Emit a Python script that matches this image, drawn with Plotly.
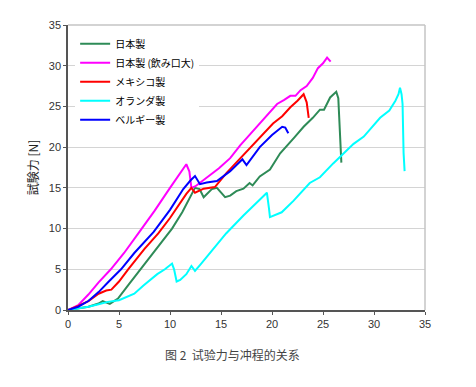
import plotly.graph_objects as go

# ---- data (stroke mm, force N) ----
names = ["日本製", "日本製 (飲み口大)", "メキシコ製", "オランダ製", "ベルギー製"]
colors = ["#2e8b57", "#ff00ff", "#ff0000", "#00ffff", "#0000ff"]

jp_x = [0, 1, 2, 3, 3.4, 4.1, 4.9, 6, 7.5, 8.8, 10.2, 11.2, 12, 12.45, 12.9, 13.3, 14.1, 14.6, 15.4, 15.9,
        16.5, 17.2, 17.8, 18.1, 18.8, 19.8, 20.8, 21.4, 22.2, 23.1, 24.0, 24.7, 25.1, 25.7, 26.3, 26.5, 26.7, 26.8]
jp_y = [0, 0.2, 0.4, 0.8, 1.1, 0.75, 1.4, 3.2, 5.6, 7.8, 10.0, 12.0, 14.0, 15.0, 14.85, 13.85, 14.85, 15.0, 13.85, 14.05,
        14.6, 14.9, 15.6, 15.3, 16.4, 17.25, 19.25, 20.05, 21.2, 22.5, 23.6, 24.6, 24.6, 26.1, 26.8, 26.0, 20.5, 18.1]

jpl_x = [0, 1, 2, 3, 4.2, 5.5, 7.0, 8.5, 10.0, 11.0, 11.6, 11.9, 12.1, 12.5, 13.6, 14.8, 15.9, 16.9, 17.8, 18.8,
         19.7, 20.5, 21.2, 21.8, 22.3, 22.8, 23.4, 24.0, 24.5, 25.0, 25.4, 25.75]
jpl_y = [0, 0.6, 1.9, 3.4, 5.0, 7.0, 9.6, 12.2, 15.0, 16.8, 17.9, 17.0, 15.0, 15.2, 16.2, 17.4, 18.65, 20.25, 21.5, 22.86,
         24.2, 25.3, 25.8, 26.3, 26.3, 27.0, 27.5, 28.5, 29.7, 30.3, 31.0, 30.5]

mx_x = [0, 1, 2, 3, 3.75, 4.25, 5, 5.9, 7.5, 8.85, 10, 11.6, 12.1, 12.45, 13.3, 14.4, 15.55, 17.2, 18.8, 20.1,
        21.0, 21.8, 22.5, 23.1, 23.4, 23.6]
mx_y = [0, 0.5, 1.1, 2.0, 2.4, 2.5, 3.5, 5.0, 7.5, 9.4, 11.3, 14.25, 15.0, 14.4, 14.9, 15.1, 16.85, 19.05, 21.3, 22.9,
        23.8, 24.9, 25.7, 26.5, 25.5, 23.6]

nl_x = [0, 1, 2, 3, 3.9, 5, 6.5, 7.4, 8.75, 9.5, 10.2, 10.4, 10.65, 11, 11.6, 12.1, 12.45, 13, 14.6, 15.5, 17.2,
        18.5, 19.5, 19.7, 19.8, 20.95, 22.1, 23.7, 24.7, 26, 28, 29, 30.6, 31.5, 32.1, 32.4, 32.55, 32.7, 32.8, 32.9, 33.0]
nl_y = [0, 0.2, 0.4, 0.7, 1.0, 1.2, 2.0, 3.0, 4.4, 5.0, 5.7, 5.0, 3.5, 3.7, 4.4, 5.4, 4.8, 5.6, 8.0, 9.4, 11.6,
        13.2, 14.4, 12.5, 11.4, 12.0, 13.4, 15.6, 16.3, 18.0, 20.4, 21.3, 23.6, 24.5, 25.7, 26.5, 27.3, 26.5, 25.3, 19.3, 17.05]

be_x = [0, 1, 2, 3, 4, 5.2, 6.5, 8.4, 10, 11.3, 12, 12.45, 12.94, 13.6, 14.6, 15.9, 17.1, 17.5, 18.8, 20,
        21, 21.3, 21.6]
be_y = [0, 0.4, 1.1, 2.2, 3.5, 5.0, 7.0, 9.6, 12.3, 14.85, 15.9, 16.45, 15.45, 15.65, 15.85, 17.05, 18.5, 17.8, 20.0, 21.5,
        22.5, 22.4, 21.7]

xs = [jp_x, jpl_x, mx_x, nl_x, be_x]
ys = [jp_y, jpl_y, mx_y, nl_y, be_y]

x_ticks = [0, 5, 10, 15, 20, 25, 30, 35]
y_ticks = [0, 5, 10, 15, 20, 25, 30, 35]

fig = go.Figure()
for n, c, x, y in zip(names, colors, xs, ys):
    fig.add_trace(go.Scatter(x=x, y=y, mode="lines", name=n,
                             line=dict(color=c, width=2)))

tick_font = dict(family="Liberation Sans, Arial, sans-serif", size=11, color="#333333")

fig.update_layout(
    width=476, height=387,
    margin=dict(l=60, r=59, t=11, b=85),
    paper_bgcolor="white", plot_bgcolor="white",
    showlegend=True,
    legend=dict(x=0.02, y=0.985, xanchor="left", yanchor="top",
                bgcolor="white", borderwidth=0,
                font=dict(family="Noto Sans CJK JP", size=10, color="#000000"),
                tracegroupgap=0),
    xaxis=dict(range=[0, 35], tickvals=x_ticks, ticktext=[str(v) for v in x_ticks],
               showgrid=False, zeroline=False, showline=True, linecolor="#555555", linewidth=1.5,
               ticks="outside", ticklen=3, tickcolor="#555555", tickfont=tick_font, mirror=False),
    yaxis=dict(range=[0, 35], tickvals=y_ticks, ticktext=[str(v) for v in y_ticks],
               showgrid=True, gridcolor="#d4d4d4", gridwidth=1, zeroline=False,
               showline=True, linecolor="#555555", linewidth=1.5,
               ticks="outside", ticklen=3, tickcolor="#555555", tickfont=tick_font,
               title=dict(text="試験力 [N]", font=dict(family="Noto Sans CJK JP", size=12, color="#222222"),
                          standoff=8)),
    shapes=[
        dict(type="line", xref="paper", yref="paper", x0=0, x1=1, y0=1, y1=1,
             line=dict(color="#c4c4c4", width=1.5)),
        dict(type="line", xref="paper", yref="paper", x0=1, x1=1, y0=0, y1=1,
             line=dict(color="#c4c4c4", width=1.5)),
    ],
    annotations=[
        dict(text="图 2  试验力与冲程的关系", xref="paper", yref="paper", x=0.46, y=-0.155,
             xanchor="center", yanchor="middle", showarrow=False,
             font=dict(family="Noto Sans CJK SC", size=12, color="#444444")),
    ],
)

fig.write_html("out.html")
